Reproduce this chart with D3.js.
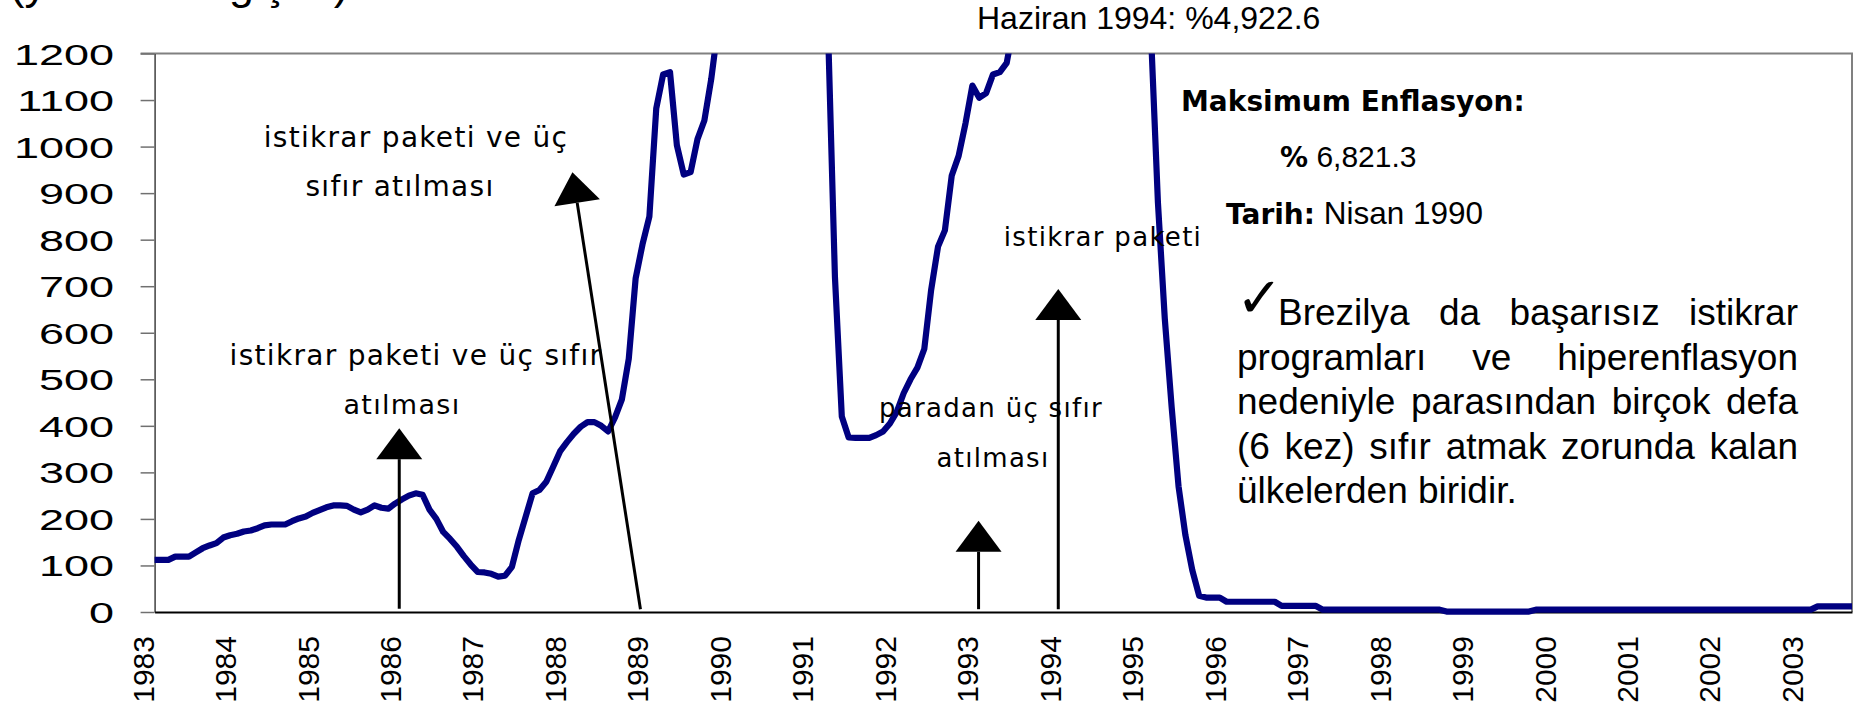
<!DOCTYPE html>
<html>
<head>
<meta charset="utf-8">
<script src="https://cdn.jsdelivr.net/npm/d3@7"></script>
<style>
body { margin: 0; background: #fff; }
svg { display: block; }
</style>
</head>
<body>
<script>
// Brezilya yillik enflasyon (%), aylik, Ocak 1983 - Agustos 2003
var inflation = [
    112, 112, 112, 119, 119, 119, 128, 137, 143, 148, 160, 165,        // 1983
    168, 173, 175, 180, 186, 188, 188, 188, 195, 201, 205, 213,        // 1984
    219, 225, 229, 229, 228, 220, 214, 220, 229, 224, 222, 233,        // 1985
    242, 250, 255, 252, 220, 200, 172, 157, 140, 120, 102, 86,         // 1986
    85, 82, 76, 78, 97, 155, 205, 255, 262, 280, 312, 345,             // 1987
    365, 383, 398, 408, 408, 400, 388, 418, 457, 544, 717, 790,        // 1988
    850, 1082, 1155, 1160, 1003, 940, 945, 1016, 1056, 1145, 1260, 1600, // 1989
    2300, 3400, 5100, 6821.3, 6200, 5300, 4500, 3900, 3300, 2800, 2400, 2000, // 1990
    1800, 1650, 1250, 720, 420, 375, 374, 374, 374, 380, 388, 405,     // 1991
    430, 470, 500, 525, 565, 692, 785, 820, 938, 980, 1050, 1131,      // 1992
    1105, 1115, 1155, 1160, 1180, 1260, 1450, 1650, 1850, 2050, 2250, 2450, // 1993
    2700, 3000, 3400, 3900, 4400, 4922.6, 4600, 4000, 3300, 2900, 2300, 1900, // 1994
    1500, 1240, 880, 630, 440, 270, 165, 90, 35, 31, 31, 31,           // 1995
    22, 22, 22, 22, 22, 22, 22, 22, 13, 13, 13, 13,                    // 1996
    13, 13, 5, 5, 5, 5, 5, 5, 5, 5, 5, 5,                              // 1997
    5, 5, 5, 5, 5, 5, 5, 5, 1, 1, 1, 1,                                // 1998
    1, 1, 1, 1, 1, 1, 1, 1, 1, 5, 5, 5,                                // 1999
    5, 5, 5, 5, 5, 5, 5, 5, 5, 5, 5, 5,                                // 2000
    5, 5, 5, 5, 5, 5, 5, 5, 5, 5, 5, 5,                                // 2001
    5, 5, 5, 5, 5, 5, 5, 5, 5, 5, 5, 5,                                // 2002
    5, 5, 12, 12, 12, 12, 12, 12                                       // 2003
];

var yearLabels = ["1983", "1984", "1985", "1986", "1987", "1988", "1989",
    "1990", "1991", "1992", "1993", "1994", "1995", "1996", "1997", "1998",
    "1999", "2000", "2001", "2002", "2003"];

var yTicks = [0, 100, 200, 300, 400, 500, 600, 700, 800, 900, 1000, 1100, 1200];

// annotation arrows: month index / value of tail and head
var arrows = [
    {m0: 35.6, v0: 7, m1: 35.6, v1: 395},
    {m0: 70.7, v0: 6, m1: 60.8, v1: 945},
    {m0: 119.9, v0: 6, m1: 119.9, v1: 196},
    {m0: 131.5, v0: 6, m1: 131.5, v1: 694}
];

var notes = [
    {text: "istikrar paketi ve üç", x: 416, y: 147, size: 28},
    {text: "sıfır atılması", x: 400, y: 196, size: 28},
    {text: "istikrar paketi ve üç sıfır", x: 416, y: 365, size: 28},
    {text: "atılması", x: 402, y: 414, size: 27},
    {text: "paradan üç sıfır", x: 991, y: 417, size: 26},
    {text: "atılması", x: 993, y: 467, size: 26},
    {text: "istikrar paketi", x: 1103, y: 246, size: 26}
];

var paragraph = [
    "Brezilya da başarısız istikrar",
    "programları ve hiperenflasyon",
    "nedeniyle parasından birçok defa",
    "(6 kez) sıfır atmak zorunda kalan",
    "ülkelerden biridir."
];

var arial = "'Liberation Sans', Arial, sans-serif";
var verdana = "'DejaVu Sans', Verdana, sans-serif";

var margin = {top: 53.5, right: 13, bottom: 95, left: 154.6},
    width = 1865 - margin.left - margin.right,
    height = 707 - margin.top - margin.bottom;

var svg = d3.select("body").append("svg")
    .attr("width", 1865)
    .attr("height", 707);

var g = svg.append("g")
    .attr("transform", "translate(" + margin.left + "," + margin.top + ")");

var x = d3.scaleLinear().domain([0, inflation.length - 1]).range([0, width]);
var y = d3.scaleLinear().domain([0, 1200]).range([height, 0]);

// plot frame (top + right)
g.append("path")
    .attr("d", "M-14,0H" + width + "V" + height)
    .attr("fill", "none")
    .attr("stroke", "#808080")
    .attr("stroke-width", 2);

// y axis
var yAxis = g.append("g")
    .call(d3.axisLeft(y)
        .tickValues(yTicks)
        .tickFormat(d3.format("d"))
        .tickSize(14)
        .tickSizeOuter(0))
    .attr("font-family", arial)
    .attr("font-size", 30);
yAxis.select(".domain").attr("stroke", "#404040").attr("stroke-width", 1.5);
yAxis.selectAll(".tick line").attr("stroke", "#707070").attr("stroke-width", 1.5);
yAxis.selectAll(".tick text")
    .attr("fill", "#000")
    .attr("x", -27)
    .attr("dy", "0.35em")
    .attr("transform", "scale(1.5,1)");

// x axis
var xAxis = g.append("g")
    .attr("transform", "translate(0," + height + ")")
    .call(d3.axisBottom(x)
        .tickValues(yearLabels.map(function(d, i) { return i * 12; }))
        .tickFormat(function(d) { return yearLabels[d / 12]; })
        .tickSize(0)
        .tickSizeOuter(0))
    .attr("font-family", arial)
    .attr("font-size", 30);
xAxis.select(".domain").attr("stroke", "#000").attr("stroke-width", 2);
xAxis.selectAll(".tick text")
    .attr("fill", "#000")
    .attr("transform", "rotate(-90)")
    .attr("text-anchor", "end")
    .attr("x", -24)
    .attr("y", -12)
    .attr("dy", "0.35em");

// the series line, cut at 1200
g.append("clipPath").attr("id", "plotClip")
  .append("rect")
    .attr("x", -3).attr("y", 0)
    .attr("width", width + 6).attr("height", height + 4);

g.append("path")
    .datum(inflation)
    .attr("clip-path", "url(#plotClip)")
    .attr("fill", "none")
    .attr("stroke", "#000080")
    .attr("stroke-width", 6.2)
    .attr("stroke-linejoin", "round")
    .attr("d", d3.line()
        .x(function(d, i) { return x(i); })
        .y(function(d) { return y(d); }));

// arrows
arrows.forEach(function(a) {
    var x0 = x(a.m0), y0 = y(a.v0), x1 = x(a.m1), y1 = y(a.v1);
    var len = Math.sqrt((x1 - x0) * (x1 - x0) + (y1 - y0) * (y1 - y0));
    var ux = (x1 - x0) / len, uy = (y1 - y0) / len;
    var bx = x1 - ux * 31, by = y1 - uy * 31;
    var nx = -uy * 23, ny = ux * 23;
    g.append("line")
        .attr("x1", x0).attr("y1", y0)
        .attr("x2", bx).attr("y2", by)
        .attr("stroke", "#000")
        .attr("stroke-width", 3);
    g.append("path")
        .attr("d", "M" + x1 + "," + y1 + "L" + (bx + nx) + "," + (by + ny) +
            "L" + (bx - nx) + "," + (by - ny) + "Z")
        .attr("fill", "#000");
});

// annotation texts
svg.selectAll(".note")
    .data(notes)
    .enter()
    .append("text")
    .attr("class", "note")
    .attr("x", function(d) { return d.x; })
    .attr("y", function(d) { return d.y; })
    .attr("text-anchor", "middle")
    .style("font-family", verdana)
    .style("font-size", function(d) { return d.size + "px"; })
    .style("letter-spacing", "1.3px")
    .text(function(d) { return d.text; });

// y title (top is cut off in the original)
svg.append("text")
    .attr("x", 9.5 / 1.02)
    .attr("y", -1)
    .attr("transform", "scale(1.02,1)")
    .style("font-family", arial)
    .style("font-size", "44px")
    .text("(yıllık % değişim)");

svg.append("text")
    .attr("x", 977)
    .attr("y", 29)
    .style("font-family", arial)
    .style("font-size", "32px")
    .text("Haziran 1994: %4,922.6");

// right-hand box
svg.append("text")
    .attr("x", 1181)
    .attr("y", 111)
    .style("font-family", verdana)
    .style("font-weight", "bold")
    .style("font-size", "28px")
    .text("Maksimum Enflasyon:");

var pct = svg.append("text")
    .attr("x", 1280)
    .attr("y", 167);
pct.append("tspan")
    .style("font-family", verdana)
    .style("font-weight", "bold")
    .style("font-size", "28px")
    .text("%");
pct.append("tspan")
    .style("font-family", arial)
    .style("font-size", "30px")
    .text(" 6,821.3");

var tarih = svg.append("text")
    .attr("x", 1226)
    .attr("y", 224);
tarih.append("tspan")
    .style("font-family", verdana)
    .style("font-weight", "bold")
    .style("font-size", "28px")
    .text("Tarih:");
tarih.append("tspan")
    .style("font-family", arial)
    .style("font-size", "31.5px")
    .text(" Nisan 1990");

svg.append("text")
    .attr("x", 1236)
    .attr("y", 317)
    .style("font-family", verdana)
    .style("font-size", "56px")
    .text("\u2713");

// justified paragraph
var parLeft = 1237, parRight = 1798, parTop = 325, parStep = 44.5;
paragraph.forEach(function(line, li) {
    var words = line.split(" ");
    var left = li === 0 ? 1278 : parLeft;
    var t = svg.append("text")
        .attr("y", parTop + li * parStep)
        .style("font-family", arial)
        .style("font-size", "37px");
    var spans = words.map(function(w) { return t.append("tspan").text(w); });
    var widths = spans.map(function(s) { return s.node().getComputedTextLength(); });
    var total = d3.sum(widths);
    var gap = (li === paragraph.length - 1) ? 10.3 :
        (parRight - left - total) / (words.length - 1);
    var cx = left;
    spans.forEach(function(s, i) {
        s.attr("x", cx);
        cx += widths[i] + gap;
    });
});
</script>
</body>
</html>
